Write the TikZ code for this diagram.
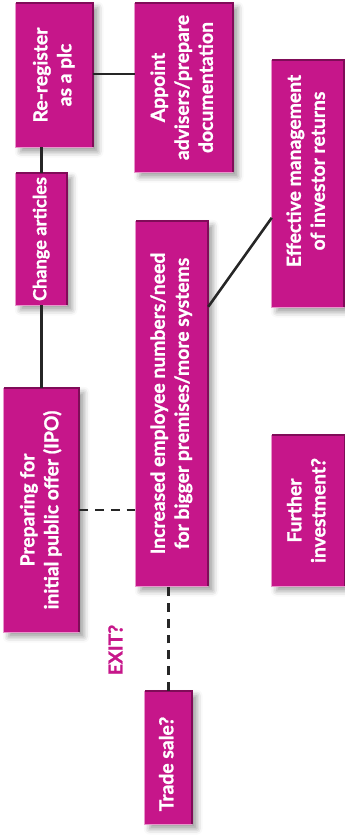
\documentclass[tikz,border=0pt]{standalone}
\usepackage{fontspec}
\setmainfont{Lato}[BoldFeatures={FakeBold=1.2}]
\usepackage{graphicx}
\usetikzlibrary{shadows.blur}

\definecolor{plum}{RGB}{198,22,138}
\definecolor{plumdark}{RGB}{128,12,88}
\definecolor{plumlight}{RGB}{232,150,204}
\newcommand{\sidetext}[2][0pt]{\rotatebox{90}{\hspace*{#1}\begin{tabular}{@{}c@{}}#2\end{tabular}}}

\begin{document}
\begin{tikzpicture}[x=0.03cm,y=-0.03cm,
  box/.style={fill=plum, text=white, inner sep=0pt,
    font=\bfseries\fontsize{16.5}{20.5}\selectfont,
    blur shadow={shadow xshift=4pt, shadow yshift=-4pt, shadow blur radius=5pt, shadow opacity=40}},
  link/.style={line width=2.2pt, draw=black!85},
  maybe/.style={link, dash pattern=on 7.5pt off 6pt}]
\useasboundingbox (0,0) rectangle (345,835);

% boxes
\node[box, minimum width=2.31cm, minimum height=4.32cm] (plc) at (54.5,75) {\sidetext{Re-register\\as a plc}};
\node[box, minimum width=2.94cm, minimum height=5.07cm] (adv) at (184,87.5) {\sidetext{Appoint\\advisers/prepare\\documentation}};
\node[box, minimum width=1.53cm, minimum height=3.96cm, font=\bfseries\fontsize{15.5}{20.5}\selectfont] (art) at (41.5,239) {\sidetext{Change articles}};
\node[box, minimum width=2.25cm, minimum height=7.32cm] (ipo) at (41.5,510) {\sidetext{Preparing for\\initial public offer (IPO)}};
\node[box, minimum width=2.16cm, minimum height=10.95cm] (emp) at (172,403.5) {\sidetext{Increased employee numbers/need\\for bigger premises/more systems}};
\node[box, minimum width=2.16cm, minimum height=7.41cm] (eff) at (308,183.5) {\sidetext[0.75cm]{Effective management\\of investor returns}};
\node[box, minimum width=2.19cm, minimum height=4.53cm] (fur) at (308.5,510.5) {\sidetext{Further\\investment?}};
\node[box, minimum width=1.41cm, minimum height=3.99cm] (trade) at (168.5,757.5) {\sidetext[-0.39cm]{Trade sale?}};

\node[text=plum, font=\bfseries\fontsize{16.5}{20}\selectfont] (exit) at (115.5,650) {\rotatebox{90}{EXIT?}};

% bevelled edges
\foreach \n in {plc,adv,art,ipo,emp,eff,fur,trade}{
  \draw[plumlight, line width=1pt] (\n.north west) -- (\n.south west) -- (\n.south east);
  \draw[plumdark, line width=1.5pt] (\n.north west) -- (\n.north east) -- (\n.south east);
}

% connectors
\draw[link] (plc.east |- 0,74) -- (adv.west |- 0,74);
\draw[link] (art.north) -- (art.north |- plc.south);
\draw[link] (art.south) -- (ipo.north);
\draw[maybe] (ipo.east) -- (ipo.east -| emp.west);
\draw[link] ([yshift=-2.58cm]emp.north east) -- ([yshift=-4.74cm]eff.north west);
\draw[maybe] (trade.north) -- (trade.north |- emp.south);
\end{tikzpicture}
\end{document}
